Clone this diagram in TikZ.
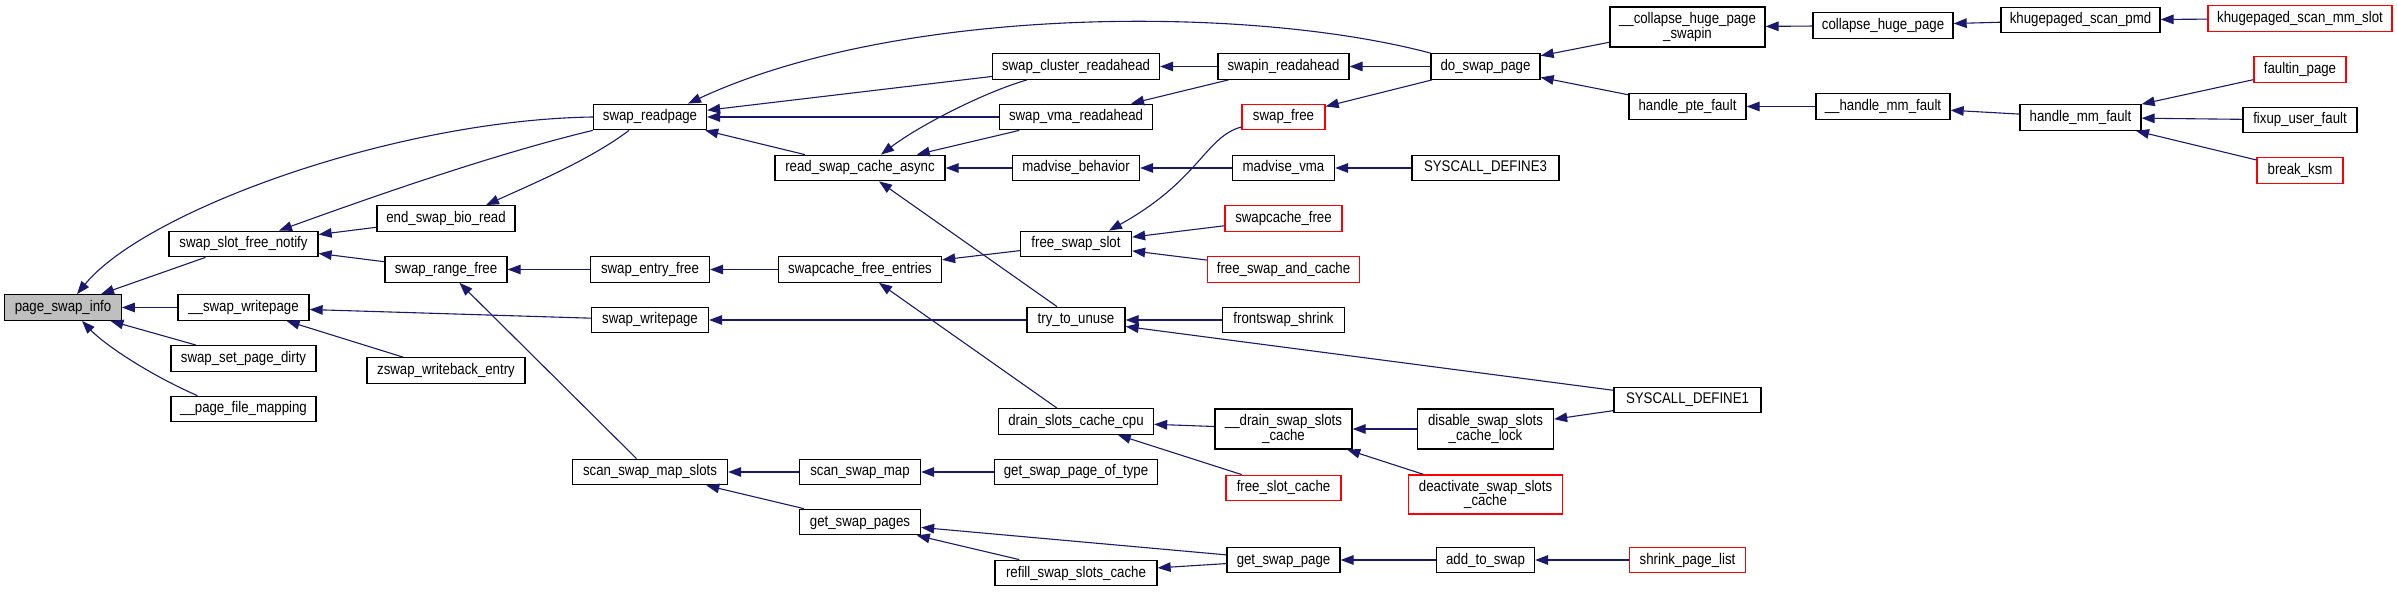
\documentclass[tikz,border=0pt]{standalone}
\usepackage{fontspec}
\newfontfamily\dxfont{Liberation Sans}[FakeStretch=0.86]
\usetikzlibrary{calc,arrows.meta}
\definecolor{edgecol}{HTML}{191970}
\definecolor{rootfill}{HTML}{BFBFBF}
\definecolor{redline}{HTML}{FF0000}
\begin{document}
\begin{tikzpicture}[x=0.5pt,y=-0.5pt,
  fnbase/.style={draw=black, line width=0.65pt, rectangle, inner sep=0pt,
    font=\dxfont\fontsize{7.7}{7.4}\selectfont, anchor=center},
  fn/.style={fnbase, minimum height=12.75pt, text height=5.6pt, text depth=1.6pt},
  fntwo/.style={fnbase, minimum height=20pt, align=center},
  redfn/.style={draw=redline},
  root/.style={fill=rootfill},
  edge/.style={draw=edgecol, line width=0.55pt, -{Triangle[length=6.5pt,width=4.8pt]}}]
\fill[white] (0,0) rectangle (2397,592);
\useasboundingbox (0,0) rectangle (2397,592);
% rank 0
\node[fn,root,minimum width=58.25pt] (psi) at (63,307.5) {page\_swap\_info};
% rank 1
\node[fn,minimum width=74.5pt] (sfn) at (243.5,244) {swap\_slot\_free\_notify};
\node[fn,minimum width=65.5pt] (swp) at (243.5,307.5) {\_\_swap\_writepage};
\node[fn,minimum width=72.5pt] (ssd) at (243.5,358.5) {swap\_set\_page\_dirty};
\node[fn,minimum width=72.5pt] (pfm) at (243.5,409) {\_\_page\_file\_mapping};
% rank 2
\node[fn,minimum width=69pt] (esbr) at (446,218.5) {end\_swap\_bio\_read};
\node[fn,minimum width=61pt] (srf) at (446,269.5) {swap\_range\_free};
\node[fn,minimum width=79pt] (zwe) at (446,370.5) {zswap\_writeback\_entry};
% rank 3
\node[fn,minimum width=56.5pt] (srp) at (650,117) {swap\_readpage};
\node[fn,minimum width=59.5pt] (sef) at (650,269.5) {swap\_entry\_free};
\node[fn,minimum width=58.5pt] (swr) at (650,320) {swap\_writepage};
\node[fn,minimum width=77.5pt] (ssms) at (650,472) {scan\_swap\_map\_slots};
% rank 4
\node[fn,minimum width=85pt] (rsca) at (860,168) {read\_swap\_cache\_async};
\node[fn,minimum width=81.5pt] (sfe) at (860,269.5) {swapcache\_free\_entries};
\node[fn,minimum width=60.5pt] (ssm) at (860,472) {scan\_swap\_map};
\node[fn,minimum width=60.5pt] (gsps) at (860,522) {get\_swap\_pages};
% rank 5
\node[fn,minimum width=83.5pt] (scr) at (1076,66.5) {swap\_cluster\_readahead};
\node[fn,minimum width=76.5pt] (svr) at (1076,117) {swap\_vma\_readahead};
\node[fn,minimum width=63.5pt] (mb) at (1076,168) {madvise\_behavior};
\node[fn,minimum width=55.5pt] (fss) at (1076,244) {free\_swap\_slot};
\node[fn,minimum width=49pt] (ttu) at (1076,320) {try\_to\_unuse};
\node[fn,minimum width=77.5pt] (dscc) at (1076,421.5) {drain\_slots\_cache\_cpu};
\node[fn,minimum width=81.5pt] (gspot) at (1076,472) {get\_swap\_page\_of\_type};
\node[fn,minimum width=81pt] (rssc) at (1076,573) {refill\_swap\_slots\_cache};
% rank 6
\node[fn,minimum width=65.5pt] (sra) at (1283.5,66.5) {swapin\_readahead};
\node[fn,redfn,minimum width=41.5pt] (sfree) at (1283.5,117) {swap\_free};
\node[fn,minimum width=51pt] (mv) at (1283.5,168) {madvise\_vma};
\node[fn,redfn,minimum width=58.5pt] (scf) at (1283.5,218.5) {swapcache\_free};
\node[fn,redfn,minimum width=76pt] (fsac) at (1283.5,269.5) {free\_swap\_and\_cache};
\node[fn,minimum width=61pt] (fs) at (1283.5,320) {frontswap\_shrink};
\node[fntwo,minimum width=68.5pt] (dssc) at (1283.5,429) {\_\_drain\_swap\_slots\\\_cache};
\node[fn,redfn,minimum width=57.5pt] (fsc) at (1283.5,488) {free\_slot\_cache};
\node[fn,minimum width=56.5pt] (gsp) at (1283.5,560) {get\_swap\_page};
% rank 7
\node[fn,minimum width=54.5pt] (dsp) at (1485.5,66.5) {do\_swap\_page};
\node[fn,minimum width=73.5pt] (sd3) at (1485.5,168) {SYSCALL\_DEFINE3};
\node[fntwo,minimum width=68pt] (dsscl) at (1485.5,429) {disable\_swap\_slots\\\_cache\_lock};
\node[fntwo,redfn,minimum width=77pt,minimum height=19.5pt] (dasc) at (1485.5,494.5) {deactivate\_swap\_slots\\\_cache};
\node[fn,minimum width=49pt] (ats) at (1485.5,560) {add\_to\_swap};
% rank 8
\node[fntwo,minimum width=77.5pt] (chps) at (1687.5,27) {\_\_collapse\_huge\_page\\\_swapin};
\node[fn,minimum width=58.5pt] (hpf) at (1687.5,106.5) {handle\_pte\_fault};
\node[fn,minimum width=73.5pt] (sd1) at (1687.5,400) {SYSCALL\_DEFINE1};
\node[fn,redfn,minimum width=58pt] (spl) at (1687.5,560) {shrink\_page\_list};
% rank 9
\node[fn,minimum width=70pt] (chp) at (1883,25.5) {collapse\_huge\_page};
\node[fn,minimum width=67pt] (hmf2) at (1883,106.5) {\_\_handle\_mm\_fault};
% rank 10
\node[fn,minimum width=79.5pt] (ksp) at (2080.5,20) {khugepaged\_scan\_pmd};
\node[fn,minimum width=60.5pt] (hmf) at (2080.5,117.5) {handle\_mm\_fault};
% rank 11
\node[fn,redfn,minimum width=92pt] (ksms) at (2300,18.5) {khugepaged\_scan\_mm\_slot};
\node[fn,redfn,minimum width=46pt] (fp) at (2300,69.5) {faultin\_page};
\node[fn,minimum width=57pt] (fuf) at (2300,120) {fixup\_user\_fault};
\node[fn,redfn,minimum width=43pt] (bk) at (2300,170.5) {break\_ksm};

% edges into page_swap_info
\draw[edge] (sfn) -- (psi);
\draw[edge] (srp.west) .. controls (394,120) and (145,211) .. ($(psi.north)+(14,0)$);
\draw[edge] (swp) -- (psi);
\draw[edge] (ssd) -- (psi);
\draw[edge] ($(pfm.north west)+(27,0)$) .. controls (150,375) and (105,345) .. ($(psi.south)+(19,0)$);
% rank 1 callers
\draw[edge] (srp.south west) .. controls (494,154) and (369,198) .. ($(sfn.north)+(35.5,0)$);
\draw[edge] (esbr) -- (sfn);
\draw[edge] (srf) -- (sfn);
\draw[edge] (swr) -- (swp);
\draw[edge] (zwe) -- (swp);
% rank 2 callers
\draw[edge] ($(srp.south)+(-21,0)$) .. controls (590,160) and (530,185) .. ($(esbr.north)+(40,0)$);
\draw[edge] (sef) -- (srf);
\draw[edge] (ssms) -- (srf);
% rank 3 callers
\draw[edge] (dsp.north west) .. controls (1250,5) and (900,5) .. ($(srp.north)+(38,0)$);
\draw[edge] (scr) -- (srp);
\draw[edge] (svr) -- (srp);
\draw[edge] (rsca) -- (srp);
\draw[edge] (sfe) -- (sef);
\draw[edge] (ttu) -- (swr);
\draw[edge] (ssm) -- (ssms);
\draw[edge] (gsps) -- (ssms);
% rank 4 callers
\draw[edge] ($(scr.south)+(-49,0)$) .. controls (985,92) and (920,125) .. ($(rsca.north)+(21,0)$);
\draw[edge] (svr) -- (rsca);
\draw[edge] (mb) -- (rsca);
\draw[edge] (ttu) -- (rsca);
\draw[edge] (fss) -- (sfe);
\draw[edge] (dscc) -- (sfe);
\draw[edge] (gspot) -- (ssm);
\draw[edge] (gsp) -- (gsps);
\draw[edge] (rssc) -- (gsps);
% rank 5 callers
\draw[edge] (sra) -- (scr);
\draw[edge] (sra) -- (svr);
\draw[edge] (mv) -- (mb);
\draw[edge] ($(sfree.west)+(0,10)$) .. controls (1205,137) and (1200,180) .. ($(fss.north)+(33,0)$);
\draw[edge] (scf) -- (fss);
\draw[edge] (fsac) -- (fss);
\draw[edge] (fs) -- (ttu);
\draw[edge] (sd1) -- (ttu);
\draw[edge] (dssc) -- (dscc);
\draw[edge] (fsc) -- (dscc);
\draw[edge] (gsp) -- (rssc);
% rank 6 callers
\draw[edge] (dsp) -- (sra);
\draw[edge] (dsp) -- (sfree);
\draw[edge] (sd3) -- (mv);
\draw[edge] (dsscl) -- (dssc);
\draw[edge] (dasc) -- (dssc);
\draw[edge] (ats) -- (gsp);
% rank 7 callers
\draw[edge] (chps) -- (dsp);
\draw[edge] (hpf) -- (dsp);
\draw[edge] (sd1) -- (dsscl);
\draw[edge] (spl) -- (ats);
% rank 8 callers
\draw[edge] (chp) -- (chps);
\draw[edge] (hmf2) -- (hpf);
% rank 9 callers
\draw[edge] (ksp) -- (chp);
\draw[edge] (hmf) -- (hmf2);
% rank 10 callers
\draw[edge] (ksms) -- (ksp);
\draw[edge] (fp) -- (hmf);
\draw[edge] (fuf) -- (hmf);
\draw[edge] (bk) -- (hmf);
\end{tikzpicture}
\end{document}
